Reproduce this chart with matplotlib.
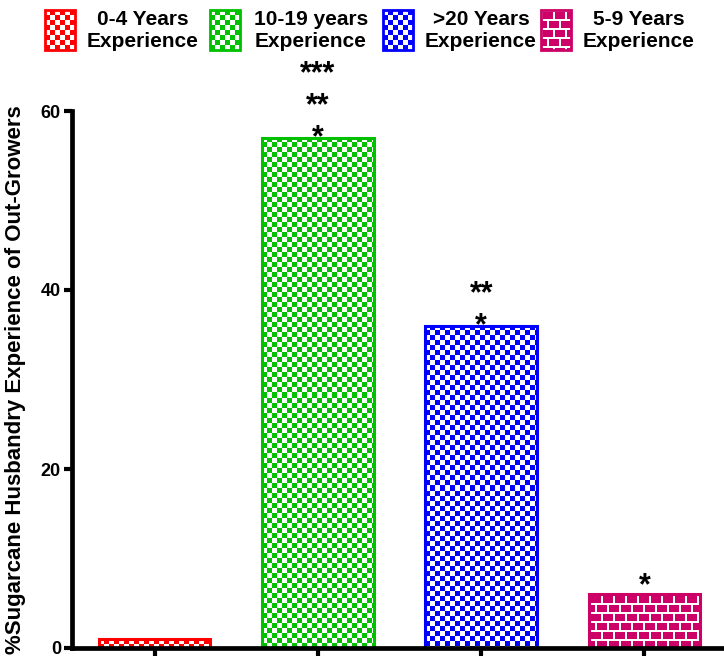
import numpy as np
import matplotlib
matplotlib.use("Agg")
import matplotlib.pyplot as plt
from matplotlib.colors import to_rgb
from matplotlib.patches import Rectangle

# Experience groups, their share of out-growers (%) and styling
categories = ["0-4 Years\nExperience", "10-19 years\nExperience",
              ">20 Years\nExperience", "5-9 Years\nExperience"]
values = [1, 57, 36, 6]
colors = ["#FF0000", "#00C000", "#0000FF", "#CC0066"]
patterns = ["checker", "checker", "checker", "brick"]
star_levels = [0, 3, 2, 1]          # stacked significance markers per bar
yticks = [0, 20, 40, 60]
ylabel = "%Sugarcane Husbandry Experience of Out-Growers"

plt.rcParams["font.family"] = ["Liberation Sans", "DejaVu Sans"]
plt.rcParams["font.weight"] = "bold"

W, H = 724, 658
fig = plt.figure(figsize=(W / 100, H / 100), dpi=100)
ax = fig.add_axes([72 / W, 10 / H, 1 - 72 / W, 537 / H])


def make_pattern(kind, color, w, h):
    """Pixel texture: colored checkerboard or brick wall on white."""
    rgb = np.array(to_rgb(color))
    img = np.ones((h, w, 3))
    yy, xx = np.mgrid[0:h, 0:w]
    if kind == "checker":
        mask = ((xx // 5) + (yy // 5)) % 2 == 1
    else:
        row = yy // 9
        horiz = (yy % 9) < 2
        vert = ((xx + (row % 2) * 6) % 12) < 2
        mask = ~(horiz | vert)
    img[mask] = rgb
    return img


x = np.arange(len(values))
width = 0.683
ax.set_xlim(-0.506, 3.487)
ax.set_ylim(0, 60)
bars = ax.bar(x, values, width=width, color=colors, edgecolor=colors,
              linewidth=2, zorder=2)

for bar, kind, col in zip(bars, patterns, colors):
    bb = bar.get_window_extent()
    w_px, h_px = max(int(round(bb.width)), 1), max(int(round(bb.height)), 1)
    img = make_pattern(kind, col, w_px, h_px)
    x0, y0 = bar.get_x(), bar.get_y()
    im = ax.imshow(img, extent=(x0, x0 + bar.get_width(), y0, y0 + bar.get_height()),
                   origin="upper", interpolation="nearest", aspect="auto", zorder=3)
    im.set_clip_path(bar)

ax.bar(x, values, width=width, fill=False, edgecolor=colors, linewidth=2.2, zorder=4)
ax.set_xlim(-0.506, 3.487)
ax.set_ylim(0, 60)
ax.set_aspect("auto")

# significance asterisks stacked above the bars
lift = [0, 0, 0, 8]
for i, n in enumerate(star_levels):
    for k in range(1, n + 1):
        off_px = lift[i] + (k - 1) * 32
        ax.annotate("*" * k, xy=(x[i], values[i]), xytext=(0, off_px * 0.72),
                    textcoords="offset points", ha="center", va="center",
                    fontsize=22, fontweight="bold", zorder=5)

for s in ("top", "right"):
    ax.spines[s].set_visible(False)
for s in ("left", "bottom"):
    ax.spines[s].set_linewidth(3.4)
    ax.spines[s].set_zorder(6)

ax.set_yticks(yticks)
ax.set_yticklabels([str(v) for v in yticks], fontsize=13, fontweight="bold")
ax.set_xticks(x)
ax.set_xticklabels([])
ax.tick_params(axis="y", length=6, width=3, pad=2)
ax.tick_params(axis="x", length=6, width=3)
ax.set_ylabel(ylabel, fontsize=16, fontweight="bold")
ax.yaxis.set_label_coords(-0.07, 0.5)

# legend row across the top, drawn in pixel coordinates
lax = fig.add_axes([0, 0, 1, 1], zorder=-1)
lax.set_xlim(0, W)
lax.set_ylim(H, 0)
lax.axis("off")
patch_left = [45, 210, 383, 541]
text_center = [143, 311, 481, 639]
for left, tc, label, kind, col in zip(patch_left, text_center, categories, patterns, colors):
    img = make_pattern(kind, col, 30, 40)
    lax.imshow(img, extent=(left, left + 30, 50, 10), origin="upper",
               interpolation="nearest", aspect="auto")
    lax.add_patch(Rectangle((left, 10), 30, 40, fill=False, edgecolor=col, linewidth=2))
    for j, line in enumerate(label.split("\n")):
        lax.text(tc, 25 + 22 * j, line, ha="center", va="baseline",
                 fontsize=15, fontweight="bold")
lax.set_xlim(0, W)
lax.set_ylim(H, 0)

fig.savefig("out.png", dpi=100)
